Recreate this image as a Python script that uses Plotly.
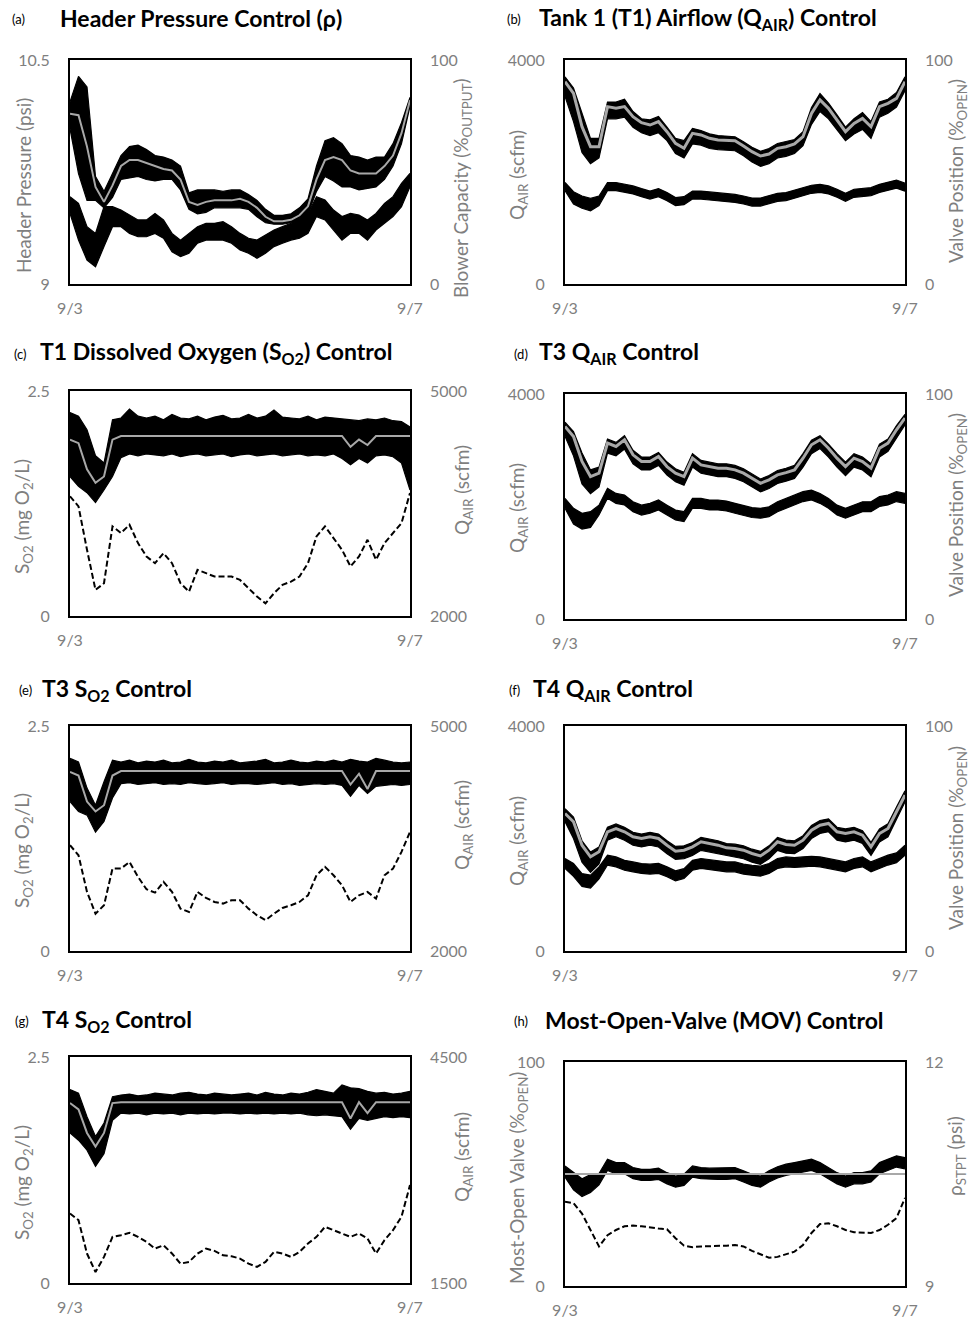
import plotly.graph_objects as go

# ---------------- data ----------------
days = [0.0, 0.1, 0.2, 0.3, 0.4, 0.5, 0.6, 0.7, 0.8, 0.9, 1.0, 1.1, 1.2, 1.3, 1.4, 1.5, 1.6, 1.7, 1.8, 1.9, 2.0,
        2.1, 2.2, 2.3, 2.4, 2.5, 2.6, 2.7, 2.8, 2.9, 3.0, 3.1, 3.2, 3.3, 3.4, 3.5, 3.6, 3.7, 3.8, 3.9, 4.0]
x_ticks = [0, 4]
x_ticktext = ["9/3", "9/7"]

# (a) header pressure (psi) and blower capacity (%)
a_press_hi = [10.22, 10.39, 10.32, 9.72, 9.62, 9.74, 9.86, 9.92, 9.93, 9.90, 9.86, 9.85, 9.83, 9.79, 9.61, 9.63, 9.63, 9.63, 9.62, 9.63, 9.63,
              9.60, 9.56, 9.50, 9.46, 9.46, 9.47, 9.51, 9.57, 9.79, 9.96, 9.98, 9.94, 9.86, 9.85, 9.83, 9.85, 9.85, 9.94, 10.08, 10.25]
a_press_lo = [10.04, 9.74, 9.56, 9.56, 9.51, 9.58, 9.70, 9.71, 9.72, 9.70, 9.69, 9.70, 9.70, 9.63, 9.50, 9.47, 9.48, 9.51, 9.51, 9.51, 9.51,
              9.50, 9.45, 9.41, 9.40, 9.40, 9.41, 9.42, 9.47, 9.62, 9.72, 9.69, 9.65, 9.65, 9.63, 9.64, 9.65, 9.70, 9.79, 9.94, 10.19]
a_press_sp = [10.14, 10.13, 9.92, 9.65, 9.55, 9.66, 9.79, 9.83, 9.83, 9.81, 9.79, 9.77, 9.76, 9.70, 9.55, 9.53, 9.55, 9.56, 9.56, 9.56, 9.57,
              9.55, 9.51, 9.45, 9.42, 9.42, 9.43, 9.46, 9.52, 9.70, 9.83, 9.85, 9.83, 9.76, 9.74, 9.74, 9.74, 9.79, 9.86, 10.01, 10.23]
a_blower_hi = [39.0, 36.0, 25.6, 22.6, 34.5, 34.5, 33.0, 30.8, 28.6, 28.6, 31.5, 28.6, 22.6, 19.6, 22.6, 25.6, 27.1, 27.1, 27.8, 25.6, 22.6,
               20.4, 19.6, 21.9, 24.1, 25.6, 27.1, 28.6, 31.5, 39.0, 37.5, 33.0, 30.1, 31.5, 30.8, 28.6, 31.5, 36.0, 39.0, 44.9, 49.4]
a_blower_lo = [31.5, 19.6, 10.7, 7.7, 16.7, 25.6, 25.6, 22.6, 21.1, 21.1, 22.6, 20.4, 14.4, 12.2, 13.7, 18.2, 19.6, 19.6, 19.6, 18.2, 15.2,
               13.7, 11.5, 13.7, 16.7, 18.2, 19.6, 20.4, 22.6, 30.1, 28.6, 24.1, 19.6, 22.6, 22.6, 19.6, 24.1, 27.1, 30.1, 34.5, 43.4]

# (b) T1 airflow (scfm) and valve position (%)
b_q_sp = [3613, 3405, 2809, 2452, 2452, 3167, 3137, 3167, 2988, 2881, 2839, 2899, 2720, 2512, 2423, 2690, 2661, 2601, 2571, 2571, 2559,
          2464, 2363, 2286, 2321, 2423, 2452, 2500, 2631, 3047, 3286, 3137, 2928, 2720, 2869, 2958, 2809, 3167, 3226, 3315, 3613]
b_q_hi = [3700, 3500, 3050, 2600, 2600, 3250, 3250, 3300, 3080, 2950, 2930, 2990, 2800, 2600, 2560, 2780, 2740, 2680, 2650, 2640, 2630,
          2540, 2440, 2370, 2420, 2510, 2540, 2580, 2720, 3150, 3400, 3230, 3020, 2800, 2950, 3060, 2900, 3250, 3300, 3420, 3700]
b_q_lo = [3350, 2900, 2350, 2150, 2250, 2950, 2950, 2980, 2800, 2700, 2650, 2700, 2560, 2330, 2250, 2500, 2480, 2420, 2400, 2390, 2380,
          2290, 2180, 2100, 2150, 2250, 2280, 2330, 2470, 2850, 3080, 2950, 2750, 2560, 2680, 2760, 2600, 2980, 3050, 3160, 3450]
b_v_hi = [45.3, 41.2, 39.3, 38.2, 39.3, 45.3, 45.3, 44.5, 43.8, 42.6, 41.5, 42.6, 40.8, 38.6, 39.0, 41.5, 41.5, 41.1, 40.8, 40.5, 40.0,
          39.3, 38.4, 38.4, 39.3, 40.5, 40.8, 42.0, 43.0, 44.1, 44.5, 43.8, 42.3, 40.5, 42.3, 42.6, 43.0, 44.5, 45.3, 46.4, 45.0]
b_v_lo = [41.7, 35.7, 33.8, 32.7, 35.0, 41.7, 41.7, 40.9, 40.2, 39.0, 37.9, 39.0, 37.2, 35.0, 35.4, 37.9, 37.9, 37.5, 37.2, 36.9, 36.4,
          35.7, 34.8, 34.8, 35.7, 36.9, 37.2, 38.4, 39.4, 40.5, 40.9, 40.2, 38.7, 36.9, 38.7, 39.0, 39.4, 40.9, 41.7, 42.8, 41.4]

# (c) T1 dissolved oxygen (mg/L) and airflow (scfm)
c_do_sp = [1.96, 1.92, 1.63, 1.48, 1.55, 1.96, 2.0, 2.0, 2.0, 2.0, 2.0, 2.0, 2.0, 2.0, 2.0, 2.0, 2.0, 2.0, 2.0, 2.0, 2.0,
           2.0, 2.0, 2.0, 2.0, 2.0, 2.0, 2.0, 2.0, 2.0, 2.0, 2.0, 2.0, 1.88, 1.96, 1.90, 2.0, 2.0, 2.0, 2.0, 2.0]
c_do_hi = [2.26, 2.22, 2.07, 1.78, 1.70, 2.18, 2.20, 2.30, 2.22, 2.20, 2.22, 2.18, 2.24, 2.20, 2.19, 2.22, 2.18, 2.21, 2.23, 2.19, 2.20,
           2.24, 2.20, 2.22, 2.29, 2.21, 2.20, 2.19, 2.22, 2.18, 2.21, 2.20, 2.19, 2.18, 2.17, 2.19, 2.18, 2.20, 2.17, 2.16, 2.10]
c_do_lo = [1.55, 1.44, 1.37, 1.26, 1.40, 1.55, 1.76, 1.80, 1.78, 1.80, 1.79, 1.78, 1.80, 1.77, 1.79, 1.80, 1.78, 1.79, 1.80, 1.77, 1.79,
           1.80, 1.78, 1.79, 1.80, 1.78, 1.79, 1.80, 1.78, 1.79, 1.78, 1.80, 1.75, 1.68, 1.75, 1.70, 1.78, 1.79, 1.77, 1.70, 1.40]
c_q = [3596, 3462, 2883, 2348, 2437, 3195, 3106, 3217, 2972, 2794, 2704, 2838, 2704, 2437, 2325, 2615, 2571, 2526, 2526, 2526, 2481,
       2370, 2259, 2169, 2303, 2415, 2459, 2526, 2704, 3061, 3195, 3039, 2883, 2660, 2794, 3016, 2749, 2972, 3106, 3239, 3641]

# (d) T3 airflow (scfm) and valve position (%)
d_q_sp = [3424, 3245, 2800, 2532, 2592, 3127, 3067, 3186, 2919, 2800, 2800, 2889, 2710, 2592, 2532, 2859, 2740, 2710, 2681, 2681, 2651,
          2592, 2502, 2413, 2473, 2562, 2603, 2651, 2859, 3097, 3186, 3037, 2859, 2710, 2859, 2800, 2681, 3037, 3127, 3364, 3572]
d_q_hi = [3500, 3330, 2950, 2650, 2700, 3200, 3140, 3260, 3000, 2880, 2880, 2960, 2790, 2670, 2610, 2940, 2820, 2790, 2760, 2760, 2730,
          2670, 2580, 2490, 2550, 2640, 2680, 2730, 2940, 3180, 3260, 3110, 2940, 2790, 2940, 2880, 2760, 3110, 3200, 3440, 3640]
d_q_lo = [3250, 2900, 2400, 2230, 2350, 2950, 2900, 3020, 2760, 2650, 2650, 2730, 2560, 2440, 2380, 2700, 2590, 2560, 2530, 2530, 2500,
          2440, 2350, 2260, 2320, 2410, 2450, 2500, 2700, 2940, 3030, 2880, 2700, 2550, 2700, 2650, 2530, 2880, 2980, 3220, 3450]
d_v_hi = [53.6, 49.2, 47.0, 47.7, 50.6, 58.1, 55.8, 55.1, 52.1, 50.6, 51.4, 52.9, 50.6, 48.4, 47.7, 53.6, 53.6, 52.9, 52.9, 52.4, 51.4,
          50.6, 49.5, 49.2, 49.9, 52.1, 53.6, 55.1, 56.6, 57.3, 55.8, 53.6, 50.6, 49.2, 50.6, 52.1, 52.1, 54.4, 55.1, 56.6, 55.8]
d_v_lo = [49.2, 42.2, 40.0, 40.7, 46.2, 53.7, 51.4, 50.7, 47.7, 46.2, 47.0, 48.5, 46.2, 44.0, 43.3, 49.2, 49.2, 48.5, 48.5, 48.0, 47.0,
          46.2, 45.1, 44.8, 45.5, 47.7, 49.2, 50.7, 52.2, 52.9, 51.4, 49.2, 46.2, 44.8, 46.2, 47.7, 47.7, 50.0, 50.7, 52.2, 51.4]

# (e) T3 dissolved oxygen (mg/L) and airflow (scfm)
e_do_sp = [1.99, 1.95, 1.66, 1.55, 1.62, 1.95, 2.0, 2.0, 2.0, 2.0, 2.0, 2.0, 2.0, 2.0, 2.0, 2.0, 2.0, 2.0, 2.0, 2.0, 2.0,
           2.0, 2.0, 2.0, 2.0, 2.0, 2.0, 2.0, 2.0, 2.0, 2.0, 2.0, 2.0, 1.85, 1.97, 1.80, 2.0, 2.0, 2.0, 2.0, 2.0]
e_do_hi = [2.14, 2.10, 1.81, 1.62, 1.88, 2.12, 2.10, 2.12, 2.09, 2.11, 2.10, 2.12, 2.09, 2.10, 2.13, 2.10, 2.09, 2.11, 2.10, 2.12, 2.09,
           2.10, 2.11, 2.13, 2.09, 2.10, 2.12, 2.10, 2.09, 2.11, 2.10, 2.12, 2.10, 2.13, 2.11, 2.10, 2.14, 2.12, 2.10, 2.09, 2.10]
e_do_lo = [1.66, 1.55, 1.51, 1.32, 1.44, 1.70, 1.86, 1.87, 1.85, 1.86, 1.87, 1.85, 1.86, 1.85, 1.87, 1.86, 1.85, 1.86, 1.87, 1.85, 1.86,
           1.86, 1.85, 1.86, 1.87, 1.85, 1.86, 1.84, 1.85, 1.86, 1.85, 1.86, 1.84, 1.72, 1.84, 1.75, 1.83, 1.84, 1.85, 1.84, 1.85]
e_q = [3411, 3277, 2788, 2498, 2610, 3099, 3099, 3188, 2988, 2823, 2779, 2921, 2788, 2565, 2521, 2788, 2708, 2654, 2632, 2677, 2677,
       2565, 2476, 2410, 2498, 2574, 2610, 2654, 2743, 3010, 3122, 3010, 2877, 2654, 2743, 2788, 2699, 3010, 3099, 3322, 3589]

# (f) T4 airflow (scfm) and valve position (%)
f_q_sp = [2445, 2297, 1881, 1674, 1763, 2119, 2178, 2119, 2030, 2000, 2030, 2000, 1881, 1775, 1792, 1852, 1941, 1911, 1881, 1834, 1822,
          1792, 1733, 1691, 1792, 1941, 1893, 1881, 1970, 2148, 2237, 2267, 2119, 2089, 2119, 2059, 1852, 2089, 2178, 2475, 2772]
f_q_hi = [2530, 2380, 1960, 1760, 1850, 2200, 2260, 2200, 2110, 2080, 2110, 2080, 1960, 1860, 1870, 1930, 2020, 1990, 1960, 1910, 1900,
          1870, 1810, 1770, 1870, 2020, 1970, 1960, 2050, 2230, 2320, 2350, 2200, 2170, 2200, 2140, 1930, 2170, 2260, 2560, 2850]
f_q_lo = [2300, 2000, 1580, 1400, 1550, 1970, 2030, 1970, 1880, 1850, 1880, 1850, 1730, 1630, 1640, 1700, 1790, 1760, 1730, 1690, 1670,
          1640, 1580, 1540, 1640, 1790, 1740, 1730, 1820, 2000, 2090, 2120, 1970, 1940, 1970, 1910, 1700, 1940, 2030, 2330, 2650]
f_v_hi = [41.1, 38.9, 34.4, 33.7, 37.4, 42.6, 41.8, 40.3, 39.6, 38.9, 38.6, 38.9, 37.4, 35.6, 36.6, 40.3, 41.1, 40.6, 40.3, 39.6, 39.6,
          38.6, 38.1, 37.7, 38.9, 41.1, 41.8, 41.5, 41.8, 42.1, 41.8, 41.1, 40.3, 39.6, 41.1, 41.8, 39.6, 41.1, 42.6, 43.6, 47.0]
f_v_lo = [36.7, 33.2, 28.7, 28.0, 32.0, 38.2, 37.4, 35.9, 35.2, 34.5, 34.2, 34.5, 33.0, 31.2, 32.2, 35.9, 36.7, 36.2, 35.9, 35.2, 35.2,
          34.2, 33.7, 33.3, 34.5, 36.7, 37.4, 37.1, 37.4, 37.7, 37.4, 36.7, 35.9, 35.2, 36.7, 37.4, 35.2, 36.7, 38.2, 39.2, 42.6]

# (g) T4 dissolved oxygen (mg/L) and airflow (scfm)
g_do_sp = [1.99, 1.92, 1.66, 1.51, 1.66, 1.99, 2.0, 2.0, 2.0, 2.0, 2.0, 2.0, 2.0, 2.0, 2.0, 2.0, 2.0, 2.0, 2.0, 2.0, 2.0,
           2.0, 2.0, 2.0, 2.0, 2.0, 2.0, 2.0, 2.0, 2.0, 2.0, 2.0, 2.0, 1.82, 2.0, 1.88, 2.0, 2.0, 2.0, 2.0, 2.0]
g_do_hi = [2.14, 2.10, 1.84, 1.62, 1.77, 2.06, 2.08, 2.09, 2.07, 2.08, 2.10, 2.09, 2.08, 2.10, 2.11, 2.09, 2.08, 2.10, 2.09, 2.08, 2.09,
           2.10, 2.08, 2.11, 2.09, 2.08, 2.10, 2.09, 2.11, 2.14, 2.12, 2.10, 2.19, 2.16, 2.15, 2.12, 2.10, 2.11, 2.09, 2.10, 2.12]
g_do_lo = [1.66, 1.58, 1.47, 1.29, 1.43, 1.80, 1.88, 1.87, 1.88, 1.86, 1.88, 1.87, 1.88, 1.86, 1.88, 1.87, 1.88, 1.87, 1.88, 1.88, 1.87,
           1.88, 1.87, 1.88, 1.87, 1.88, 1.87, 1.88, 1.86, 1.85, 1.86, 1.85, 1.84, 1.70, 1.82, 1.80, 1.82, 1.84, 1.83, 1.84, 1.83]
g_q = [2423, 2334, 1891, 1646, 1846, 2112, 2135, 2166, 2112, 2046, 1957, 2001, 1891, 1757, 1780, 1891, 1957, 1926, 1868, 1855, 1824,
       1757, 1713, 1780, 1913, 1891, 1846, 1913, 2024, 2112, 2246, 2201, 2157, 2112, 2157, 2090, 1891, 2068, 2201, 2379, 2800]

# (h) most-open-valve position (%) and pressure setpoint (psi)
h_mov_hi = [53.6, 50.9, 47.9, 49.7, 50.2, 56.6, 55.1, 55.1, 52.9, 52.1, 52.1, 52.6, 50.6, 49.1, 49.9, 53.6, 52.9, 52.6, 52.6, 52.6, 52.9,
            51.4, 49.9, 49.1, 51.4, 53.2, 54.4, 55.1, 55.8, 56.6, 55.1, 52.9, 50.6, 49.1, 50.6, 50.6, 51.4, 55.1, 56.6, 58.1, 57.3]
h_mov_lo = [48.6, 42.9, 39.9, 41.7, 45.2, 51.6, 50.1, 50.1, 47.9, 47.1, 47.1, 47.6, 45.6, 44.1, 44.9, 48.6, 47.9, 47.6, 47.6, 47.6, 47.9,
            46.4, 44.9, 44.1, 46.4, 48.2, 49.4, 50.1, 50.8, 51.6, 50.1, 47.9, 45.6, 44.1, 45.6, 45.6, 46.4, 50.1, 51.6, 53.1, 52.3]
h_sp_days = [0.0, 4.0]
h_mov_sp = [50.0, 50.0]
h_psi = [10.13, 10.11, 9.97, 9.75, 9.53, 9.68, 9.75, 9.80, 9.81, 9.80, 9.78, 9.77, 9.76, 9.64, 9.54, 9.52, 9.53, 9.53, 9.53, 9.54, 9.55,
         9.53, 9.47, 9.42, 9.38, 9.39, 9.43, 9.46, 9.55, 9.71, 9.83, 9.84, 9.80, 9.75, 9.72, 9.71, 9.71, 9.75, 9.82, 9.91, 10.18]

# ---------------- figure ----------------
W, H = 971, 1322
FONT = "Lato"
TICK_GRAY = "#7f7f7f"
LINE_GRAY = "#a8a8a8"


def fx(p):
    return p / W


def fy(p):
    return 1 - p / H


# panel geometry in pixels: (x0, x1, y_top, y_bottom)
panels = [
    dict(box=(70, 410, 60, 284), yl=(9, 10.5), ylt=["9", "10.5"], yr=(0, 100), yrt=["0", "100"],
         letter="(a)", lx=10, title="Header Pressure Control (ρ)", tx=58, ty=18,
         ltitle="Header Pressure (psi)", ltx=23, lty=186,
         rtitle="Blower Capacity (%<sub>OUTPUT</sub>)", rtx=462, rty=188),
    dict(box=(565, 905, 60, 284), yl=(0, 4000), ylt=["0", "4000"], yr=(0, 100), yrt=["0", "100"],
         letter="(b)", lx=505, title="Tank 1 (T1) Airflow (Q<sub>AIR</sub>) Control", tx=537, ty=18,
         ltitle="Q<sub>AIR</sub> (scfm)", ltx=518, lty=175,
         rtitle="Valve Position (%<sub>OPEN</sub>)", rtx=957, rty=171),
    dict(box=(70, 410, 391, 616), yl=(0, 2.5), ylt=["0", "2.5"], yr=(2000, 5000), yrt=["2000", "5000"],
         letter="(c)", lx=12, title="T1 Dissolved Oxygen (S<sub>O2</sub>) Control", tx=38, ty=353,
         ltitle="S<sub>O2</sub> (mg O<sub>2</sub>/L)", ltx=23, lty=517,
         rtitle="Q<sub>AIR</sub> (scfm)", rtx=463, rty=490),
    dict(box=(565, 905, 394, 619), yl=(0, 4000), ylt=["0", "4000"], yr=(0, 100), yrt=["0", "100"],
         letter="(d)", lx=512, title="T3 Q<sub>AIR</sub> Control", tx=537, ty=353,
         ltitle="Q<sub>AIR</sub> (scfm)", ltx=518, lty=508,
         rtitle="Valve Position (%<sub>OPEN</sub>)", rtx=957, rty=505),
    dict(box=(70, 410, 726, 951), yl=(0, 2.5), ylt=["0", "2.5"], yr=(2000, 5000), yrt=["2000", "5000"],
         letter="(e)", lx=17, title="T3 S<sub>O2</sub> Control", tx=40, ty=689,
         ltitle="S<sub>O2</sub> (mg O<sub>2</sub>/L)", ltx=23, lty=851,
         rtitle="Q<sub>AIR</sub> (scfm)", rtx=463, rty=825),
    dict(box=(565, 905, 726, 951), yl=(0, 4000), ylt=["0", "4000"], yr=(0, 100), yrt=["0", "100"],
         letter="(f)", lx=507, title="T4 Q<sub>AIR</sub> Control", tx=531, ty=689,
         ltitle="Q<sub>AIR</sub> (scfm)", ltx=518, lty=841,
         rtitle="Valve Position (%<sub>OPEN</sub>)", rtx=957, rty=838),
    dict(box=(70, 410, 1057, 1283), yl=(0, 2.5), ylt=["0", "2.5"], yr=(1500, 4500), yrt=["1500", "4500"],
         letter="(g)", lx=13, title="T4 S<sub>O2</sub> Control", tx=40, ty=1020,
         ltitle="S<sub>O2</sub> (mg O<sub>2</sub>/L)", ltx=23, lty=1183,
         rtitle="Q<sub>AIR</sub> (scfm)", rtx=463, rty=1157),
    dict(box=(565, 905, 1062, 1286), yl=(0, 100), ylt=["0", "100"], yr=(9, 12), yrt=["9", "12"],
         letter="(h)", lx=512, title="Most-Open-Valve (MOV) Control", tx=543, ty=1020,
         ltitle="Most-Open Valve (%<sub>OPEN</sub>)", ltx=518, lty=1178,
         rtitle="ρ<sub>STPT</sub> (psi)", rtx=956, rty=1156),
]

fig = go.Figure()
layout = dict(width=W, height=H, margin=dict(l=0, r=0, t=0, b=0, pad=0, autoexpand=False), autosize=False,
              paper_bgcolor="white", plot_bgcolor="white", showlegend=False,
              font=dict(family=FONT, color=TICK_GRAY, size=16))
annotations = []


def nm(prefix, n):
    return prefix if n == 1 else f"{prefix}{n}"


refs = []
for i, p in enumerate(panels):
    xi, yl_i, yr_i = i + 1, 2 * i + 1, 2 * i + 2
    xref, ylref, yrref = nm("x", xi), nm("y", yl_i), nm("y", yr_i)
    refs.append((xref, ylref, yrref))
    x0, x1, yt, yb = p["box"]
    layout[nm("xaxis", xi)] = dict(
        domain=[fx(x0), fx(x1)], anchor=ylref, range=[0, 4], tickvals=x_ticks, ticktext=x_ticktext,
        showline=True, mirror=True, linecolor="black", linewidth=2, showgrid=False, zeroline=False,
        automargin=False, ticks="", ticklabelstandoff=9,
        tickfont=dict(size=16, color=TICK_GRAY, family=FONT), fixedrange=True)
    layout[nm("yaxis", yl_i)] = dict(
        domain=[fy(yb), fy(yt)], anchor=xref, range=list(p["yl"]), tickvals=list(p["yl"]), ticktext=p["ylt"],
        showline=True, mirror=True, linecolor="black", linewidth=2, showgrid=False, zeroline=False,
        automargin=False, ticks="", ticklabelstandoff=15,
        tickfont=dict(size=16, color=TICK_GRAY, family=FONT), fixedrange=True)
    layout[nm("yaxis", yr_i)] = dict(
        overlaying=ylref, side="right", anchor=xref, range=list(p["yr"]), tickvals=list(p["yr"]),
        ticktext=p["yrt"], showline=False, showgrid=False, zeroline=False, ticks="", ticklabelstandoff=19,
        automargin=False, tickfont=dict(size=16, color=TICK_GRAY, family=FONT), fixedrange=True)
    annotations.append(dict(text=p["letter"], x=fx(p["lx"]), y=fy(p["ty"] + 1), xref="paper", yref="paper",
                            xanchor="left", yanchor="middle", showarrow=False,
                            font=dict(family=FONT, size=13, color="black")))
    annotations.append(dict(text="<b>" + p["title"] + "</b>", x=fx(p["tx"]), y=fy(p["ty"]), xref="paper",
                            yref="paper", xanchor="left", yanchor="middle", showarrow=False,
                            font=dict(family=FONT, size=23, color="black")))
    annotations.append(dict(text=p["ltitle"], x=fx(p["ltx"]), y=fy(p["lty"]), xref="paper", yref="paper",
                            xanchor="center", yanchor="middle", textangle=-90, showarrow=False,
                            font=dict(family=FONT, size=19, color=TICK_GRAY)))
    annotations.append(dict(text=p["rtitle"], x=fx(p["rtx"]), y=fy(p["rty"]), xref="paper", yref="paper",
                            xanchor="center", yanchor="middle", textangle=-90, showarrow=False,
                            font=dict(family=FONT, size=19, color=TICK_GRAY)))

layout["annotations"] = annotations


def band(lo, hi, xref, yref):
    fig.add_trace(go.Scatter(x=days, y=lo, xaxis=xref, yaxis=yref, mode="lines",
                             line=dict(color="black", width=1.2), hoverinfo="skip"))
    fig.add_trace(go.Scatter(x=days, y=hi, xaxis=xref, yaxis=yref, mode="lines", fill="tonexty",
                             fillcolor="black", line=dict(color="black", width=1.2), hoverinfo="skip"))


def line(xs, ys, xref, yref, color="black", width=2, dash=None):
    fig.add_trace(go.Scatter(x=xs, y=ys, xaxis=xref, yaxis=yref, mode="lines",
                             line=dict(color=color, width=width, dash=dash), hoverinfo="skip"))


DASH = "6px,3px"

# (a)
xr, yl, yr = refs[0]
band(a_blower_lo, a_blower_hi, xr, yr)
band(a_press_lo, a_press_hi, xr, yl)
line(days, a_press_sp, xr, yl, LINE_GRAY, 2)
# (b)
xr, yl, yr = refs[1]
band(b_v_lo, b_v_hi, xr, yr)
band(b_q_lo, b_q_hi, xr, yl)
line(days, b_q_sp, xr, yl, LINE_GRAY, 3)
# (c)
xr, yl, yr = refs[2]
line(days, c_q, xr, yr, "black", 2, DASH)
band(c_do_lo, c_do_hi, xr, yl)
line(days, c_do_sp, xr, yl, LINE_GRAY, 2)
# (d)
xr, yl, yr = refs[3]
band(d_v_lo, d_v_hi, xr, yr)
band(d_q_lo, d_q_hi, xr, yl)
line(days, d_q_sp, xr, yl, LINE_GRAY, 3)
# (e)
xr, yl, yr = refs[4]
line(days, e_q, xr, yr, "black", 2, DASH)
band(e_do_lo, e_do_hi, xr, yl)
line(days, e_do_sp, xr, yl, LINE_GRAY, 2)
# (f)
xr, yl, yr = refs[5]
band(f_v_lo, f_v_hi, xr, yr)
band(f_q_lo, f_q_hi, xr, yl)
line(days, f_q_sp, xr, yl, LINE_GRAY, 3)
# (g)
xr, yl, yr = refs[6]
line(days, g_q, xr, yr, "black", 2, DASH)
band(g_do_lo, g_do_hi, xr, yl)
line(days, g_do_sp, xr, yl, LINE_GRAY, 2)
# (h)
xr, yl, yr = refs[7]
line(days, h_psi, xr, yr, "black", 2, DASH)
band(h_mov_lo, h_mov_hi, xr, yl)
line(h_sp_days, h_mov_sp, xr, yl, LINE_GRAY, 2)

fig.update_layout(**layout)
fig.write_html("out.html")
